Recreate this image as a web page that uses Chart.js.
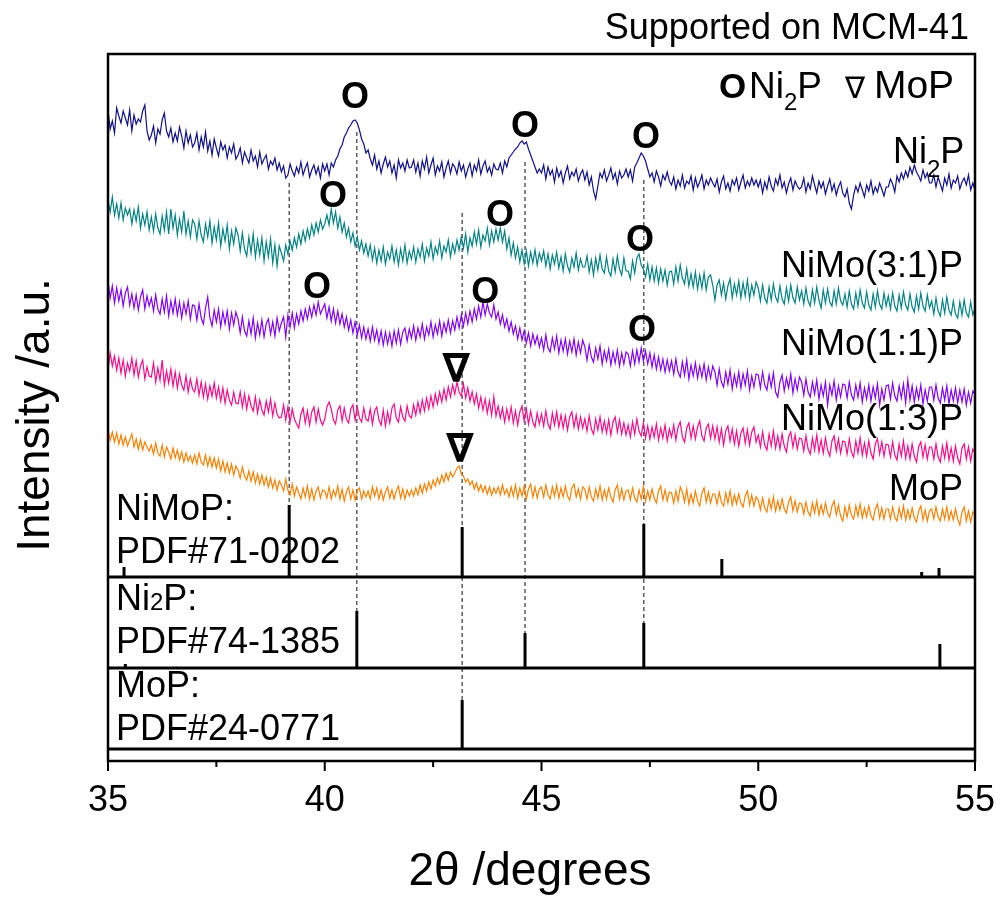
<!DOCTYPE html>
<html>
<head>
<meta charset="utf-8">
<script src="https://cdn.jsdelivr.net/npm/chart.js@4.4.0/dist/chart.umd.min.js"></script>
<style>
  body { margin: 0; background: #fff; }
  canvas { display: block; }
</style>
</head>
<body>
<canvas id="xrd-chart" width="1001" height="898"></canvas>
<script>
// 2theta range and sampling step
const thetaMin = 35;
const thetaMax = 55;
const thetaStep = 0.05;

const majorTicks = [35, 40, 45, 50, 55];
const minorTicks = [37.5, 42.5, 47.5, 52.5];

// Measured patterns (stacked intensity, a.u.), one row per degree
const ni2pTrace = [
  651,632,640,628,653,645,638,650,643,636,651,630,646,637,642,639,650,656,630,621,
  626,635,618,632,627,641,648,630,624,633,619,628,620,634,625,613,630,618,626,614,
  618,628,611,624,614,629,610,620,606,622,613,605,619,611,616,603,614,608,617,602,
  606,613,598,609,603,598,611,600,605,594,609,597,602,606,592,600,596,603,591,598,
  589,595,583,586,597,590,585,594,588,599,586,593,598,584,591,596,587,594,583,597,
  590,597,586,598,594,601,605,612,616,624,628,633,636,640,641,638,631,622,617,608,
  611,602,596,606,592,600,588,597,604,594,600,588,596,583,601,593,598,590,601,593,
  594,601,589,598,585,600,592,604,588,596,603,586,595,590,599,584,593,600,588,597,
  594,587,599,590,596,584,592,598,585,596,590,601,587,595,600,589,594,586,597,592,
  591,598,588,600,594,603,606,609,612,614,618,620,617,619,612,606,600,594,588,592,
  588,596,582,594,586,591,579,593,584,590,578,588,595,582,589,585,592,580,587,591,
  581,589,576,584,570,562,575,588,583,591,580,586,593,582,588,577,590,583,586,592,
  584,591,580,594,598,603,608,605,600,592,584,588,579,590,584,575,586,581,589,580,
  576,584,572,581,575,586,573,580,577,585,571,583,574,579,586,572,581,576,583,578,
  574,582,569,579,585,572,578,570,581,576,583,571,579,586,573,580,575,583,576,581,
  574,581,568,579,572,584,575,570,582,576,586,573,579,568,577,583,571,580,575,572,
  574,583,569,578,572,585,576,568,580,573,579,567,575,582,570,577,566,574,579,568,
  564,572,558,552,566,575,569,578,571,564,576,570,580,567,574,569,578,572,565,574,
  574,582,577,569,585,579,588,582,590,584,594,587,596,589,585,580,591,583,588,578,
  578,586,574,584,577,570,583,576,587,573,581,578,585,572,579,583,576,586,571,578,
  571
];

const nimo31Trace = [
  561,549,564,546,557,543,558,541,553,546,552,537,551,540,554,533,547,536,549,531,
  544,530,547,533,527,545,531,549,527,552,533,546,526,542,529,550,527,540,524,541,
  537,522,540,526,519,537,524,540,518,534,521,538,515,532,520,536,512,530,517,533,
  526,510,528,512,505,524,508,527,504,521,506,523,500,519,504,522,498,516,495,515,
  508,500,516,507,520,511,523,514,527,517,530,520,532,523,536,526,538,529,541,532,
  537,546,536,552,538,549,533,544,529,538,524,533,519,528,515,524,511,520,508,517,
  505,516,501,513,498,511,500,514,497,509,502,515,499,511,496,512,500,516,498,510,
  502,514,499,512,504,517,500,513,505,519,502,514,507,520,503,515,509,521,504,517,
  508,521,511,524,513,527,509,523,515,529,517,531,514,526,520,533,516,530,519,532,
  521,533,519,530,512,523,506,518,503,514,499,511,497,510,495,509,498,511,496,508,
  500,510,495,507,492,506,497,509,493,504,490,507,495,489,503,494,508,491,502,494,
  494,505,489,501,486,503,491,506,492,488,504,490,485,502,489,505,492,486,503,490,
  490,482,500,488,503,507,496,492,484,497,481,494,480,493,478,492,480,491,476,489,
  490,477,494,480,496,483,477,492,475,487,474,489,472,486,473,488,471,484,486,476,
  461,476,481,466,478,462,475,482,463,477,466,480,463,478,465,481,462,476,466,479,
  473,460,476,463,458,474,461,477,464,459,475,462,457,473,460,476,463,458,474,461,
  470,457,473,460,455,471,458,474,461,453,471,458,472,459,455,470,457,473,460,456,
  467,454,470,457,452,468,455,471,458,453,469,456,451,467,454,470,457,452,468,455,
  465,452,468,455,450,466,453,469,456,451,467,454,449,465,452,468,455,450,466,453,
  460,447,463,450,445,461,448,464,451,446,460,447,443,459,446,461,448,444,459,446,
  453
];

const nimo11Trace = [
  480,463,475,458,473,460,471,455,468,474,456,467,453,466,451,464,471,452,465,455,
  463,450,466,452,447,462,449,465,445,460,448,462,446,459,443,458,447,460,442,456,
  455,441,457,443,437,453,464,443,435,451,439,452,434,449,437,450,432,448,436,449,
  442,428,444,430,425,440,427,443,423,438,426,441,424,437,442,427,439,425,443,430,
  438,444,424,446,434,448,433,447,437,450,440,452,442,454,444,456,446,459,447,452,
  457,443,454,440,452,438,450,437,447,434,444,431,441,428,439,426,436,423,434,422,
  432,420,434,421,431,418,430,416,429,417,428,415,430,418,431,417,429,433,420,432,
  423,435,421,433,424,437,422,434,426,439,424,436,427,440,425,438,429,441,428,440,
  431,444,433,446,435,448,437,450,439,452,442,455,444,459,446,457,448,444,456,442,
  449,437,446,434,442,430,439,427,435,422,433,421,430,418,428,415,427,417,425,414,
  423,411,426,413,409,423,412,425,408,421,410,422,407,420,409,422,406,419,408,421,
  414,401,416,404,399,413,402,415,397,410,400,412,396,409,398,411,395,408,397,409,
  407,395,410,397,411,399,413,400,410,397,408,394,406,392,404,391,402,389,401,390,
  400,387,402,389,384,399,386,401,382,396,385,398,383,395,384,397,381,394,383,395,
  389,376,392,379,374,389,377,391,372,386,375,389,373,387,376,390,371,385,374,387,
  386,373,389,376,371,386,374,388,369,364,379,386,370,383,373,387,368,382,371,384,
  379,366,382,369,364,379,367,381,362,376,365,379,356,376,366,380,361,375,364,377,
  376,363,379,366,361,376,364,378,359,373,362,376,360,374,363,377,356,372,361,375,
  376,362,378,365,360,375,363,377,358,381,361,375,359,373,362,376,357,371,360,374,
  374,361,376,363,358,373,361,375,357,371,360,373,358,371,359,372,356,369,358,370,
  366
];

const nimo13Trace = [
  391,408,395,405,391,403,388,401,385,398,390,403,386,400,384,395,401,382,394,385,
  384,398,379,393,381,401,376,390,378,392,375,389,373,387,376,371,385,369,382,372,
  369,382,366,379,364,377,362,375,365,378,363,374,360,373,358,371,361,356,369,358,
  357,369,354,367,352,365,355,350,364,348,361,351,346,360,349,362,345,358,347,343,
  344,356,341,354,339,352,342,337,333,347,353,338,350,336,349,354,339,352,341,336,
  342,354,359,352,341,337,351,355,340,353,342,338,352,356,341,354,343,339,353,342,
  340,352,337,350,354,341,336,351,335,349,338,353,357,343,339,354,344,340,355,345,
  343,356,346,359,348,361,350,363,352,365,354,367,357,369,359,372,361,374,364,376,
  367,379,369,365,377,363,373,360,369,357,367,353,364,351,362,348,360,346,364,345,
  355,343,353,339,352,341,354,338,350,336,349,355,340,352,337,350,339,334,348,337,
  347,335,350,337,332,348,336,349,334,346,333,345,331,344,349,334,346,332,344,333,
  342,330,345,332,327,342,331,344,329,340,328,341,326,339,344,329,341,327,338,326,
  336,324,339,327,342,330,325,338,323,335,322,334,324,337,321,333,323,336,320,332,
  324,336,321,334,339,324,319,333,338,323,335,322,334,340,325,320,333,337,323,335,
  322,334,319,332,316,330,335,320,332,317,330,315,328,333,318,331,316,329,334,319,
  326,314,329,316,311,327,315,330,313,325,312,327,315,309,324,329,314,326,312,323,
  322,310,325,312,307,323,311,326,309,321,308,323,311,305,320,325,310,322,308,320,
  319,307,322,309,304,320,308,323,306,318,305,320,308,302,317,322,307,319,305,317,
  316,304,319,306,301,317,305,320,303,315,302,317,305,299,314,319,304,316,302,314,
  314,302,317,304,299,315,303,318,301,313,300,315,303,297,313,317,302,314,300,312,
  308
];

const mopTrace = [
  331,321,329,319,328,317,326,316,324,315,321,327,314,322,312,321,311,319,314,310,
  316,307,318,308,305,316,304,314,309,302,313,303,311,301,309,299,308,300,305,298,
  306,297,308,299,296,306,295,304,294,303,293,302,290,300,289,298,288,297,286,295,
  291,283,294,285,281,290,280,289,278,287,277,286,276,284,274,283,273,281,271,280,
  276,270,282,271,266,277,265,274,268,262,273,264,275,262,272,261,270,274,263,271,
  270,263,274,262,271,265,275,262,272,260,269,274,262,271,261,270,273,262,270,264,
  270,262,274,265,273,262,271,261,269,274,263,271,262,270,275,263,272,262,271,265,
  271,265,273,266,276,268,277,270,279,272,281,275,283,277,286,279,288,281,289,284,
  288,293,295,287,285,279,282,276,280,272,278,270,276,269,275,267,274,266,273,268,
  274,266,276,267,272,264,274,265,276,263,273,265,275,262,272,277,264,274,263,272,
  274,264,276,266,262,274,265,276,263,273,264,275,265,261,273,277,264,272,262,274,
  272,262,274,264,260,272,263,275,261,271,262,273,264,259,271,276,262,272,261,270,
  271,261,273,263,259,271,262,274,260,270,261,272,263,258,270,275,261,271,260,269,
  268,258,270,260,274,269,259,272,257,267,258,270,260,255,268,273,259,269,258,267,
  267,257,269,259,255,268,258,270,256,266,257,267,258,254,265,270,256,266,255,264,
  261,251,263,253,249,262,252,264,250,260,251,262,252,248,259,264,250,260,249,258,
  257,247,259,249,245,258,248,260,246,256,247,258,248,244,255,260,246,256,245,240,
  254,244,256,246,242,255,245,257,243,253,244,255,245,241,252,257,243,253,242,252,
  252,242,254,244,240,253,243,255,241,251,242,253,243,239,250,255,241,251,240,250,
  252,242,254,244,240,252,242,254,241,250,241,252,242,236,249,254,240,250,239,249,
  246
];

// Reference stick patterns: baseline, peak positions, relative heights
const nimopBase = 184;
const nimopPeaks = [35.37, 39.18, 43.17, 47.36, 49.16, 53.77, 54.17];
const nimopHeights = [10, 72, 50, 53, 18, 5, 9];

const ni2pBase = 93;
const ni2pPeaks = [35.4, 40.74, 44.62, 47.36, 54.19];
const ni2pHeights = [4, 57, 35, 45, 24];

const mopBase = 12;
const mopPeaks = [43.17];
const mopHeights = [49];

// Dashed guide lines linking peaks to reference sticks
const guideX = [39.18, 40.74, 43.17, 44.62, 47.36];
const guideTop = [578, 629, 548, 599, 581];
const guideBottom = [256, 150, 61, 128, 138];

// Peak markers
const markerX = [40.70, 44.62, 47.41, 40.19, 44.04, 47.27, 39.82, 43.70, 47.32, 43.03, 43.12];
const markerY = [663, 634, 623, 564, 545, 520, 473, 468, 430, 389, 309];
const markerSym = ['O', 'O', 'O', 'O', 'O', 'O', 'O', 'O', 'O', '\u2207', '\u2207'];

const FONT = '"Liberation Sans", Arial, sans-serif';

function toPoints(values) {
    return values.map((v, i) => ({ x: thetaMin + i * thetaStep, y: v }));
}

function stickPoints(base, peaks, heights) {
    const pts = [{ x: thetaMin, y: base }, { x: thetaMax, y: base }, { x: thetaMax, y: null }];
    peaks.forEach((p, i) => {
        pts.push({ x: p, y: base }, { x: p, y: base + heights[i] }, { x: p, y: null });
    });
    return pts;
}

function guidePoints() {
    const pts = [];
    guideX.forEach((g, i) => {
        pts.push({ x: g, y: guideTop[i] }, { x: g, y: guideBottom[i] }, { x: g, y: null });
    });
    return pts;
}

function traceSet(label, values, color) {
    return {
        label: label,
        data: toPoints(values),
        borderColor: color,
        borderWidth: 1.2,
        pointRadius: 0,
        tension: 0
    };
}

function stickSet(label, pts) {
    return {
        label: label,
        data: pts,
        borderColor: '#000',
        borderWidth: 3,
        pointRadius: 0,
        borderCapStyle: 'butt',
        spanGaps: false
    };
}

// "Ni" + small "2" + rest of the formula
function drawNi2(ctx, text, x0, yBase, subDrop, size) {
    ctx.font = size + 'px ' + FONT;
    ctx.fillText('Ni', x0, yBase);
    let cx = x0 + ctx.measureText('Ni').width;
    ctx.font = Math.round(size * 0.66) + 'px ' + FONT;
    ctx.fillText('2', cx, yBase + subDrop);
    cx += ctx.measureText('2').width;
    ctx.font = size + 'px ' + FONT;
    ctx.fillText(text, cx, yBase);
}

// Text, ticks and frame drawn on top of the plot
const xrdDecor = {
    id: 'xrdDecor',
    afterDraw(chart) {
        const { ctx, chartArea: a, scales: { x, y } } = chart;
        ctx.save();
        ctx.fillStyle = '#000';
        ctx.strokeStyle = '#000';

        // frame
        ctx.lineWidth = 2.5;
        ctx.strokeRect(a.left, a.top, a.right - a.left, a.bottom - a.top);

        // ticks
        ctx.lineWidth = 2;
        ctx.beginPath();
        majorTicks.forEach(t => {
            const px = x.getPixelForValue(t);
            ctx.moveTo(px, a.bottom); ctx.lineTo(px, a.bottom + 10);
        });
        minorTicks.forEach(t => {
            const px = x.getPixelForValue(t);
            ctx.moveTo(px, a.bottom); ctx.lineTo(px, a.bottom + 6);
        });
        ctx.stroke();

        // tick labels
        ctx.font = '36px ' + FONT;
        ctx.textAlign = 'center';
        ctx.textBaseline = 'middle';
        majorTicks.forEach(t => ctx.fillText(String(t), x.getPixelForValue(t), 801));

        // axis titles
        ctx.font = '46px ' + FONT;
        ctx.fillText('2\u03b8 /degrees', 530, 872);
        ctx.save();
        ctx.translate(36, 415);
        ctx.rotate(-Math.PI / 2);
        ctx.fillText('Intensity /a.u.', 0, 0);
        ctx.restore();

        // header
        ctx.font = '36px ' + FONT;
        ctx.textAlign = 'right';
        ctx.textBaseline = 'alphabetic';
        ctx.fillText('Supported on MCM-41', 969, 39);

        // legend: O Ni2P   ∇ MoP
        ctx.textAlign = 'left';
        ctx.font = 'bold 35px ' + FONT;
        ctx.fillText('O', 719, 98);
        drawNi2(ctx, 'P', 749, 98, 12, 37);
        ctx.font = '30px "DejaVu Sans", ' + FONT;
        ctx.fillText('\u2207', 845, 98);
        ctx.font = '39px ' + FONT;
        ctx.textAlign = 'center';
        ctx.fillText('MoP', 914, 98);

        // sample labels
        ctx.textAlign = 'left';
        drawNi2(ctx, 'P', 893, 163, 14, 36);

        ctx.font = '36px ' + FONT;
        ctx.textAlign = 'right';
        ctx.textBaseline = 'middle';
        ctx.fillText('NiMo(3:1)P', 963, 267);
        ctx.fillText('NiMo(1:1)P', 963, 345);
        ctx.fillText('NiMo(1:3)P', 963, 420);
        ctx.fillText('MoP', 963, 490);

        // reference card labels
        ctx.textAlign = 'left';
        ctx.fillText('NiMoP:', 116, 510);
        ctx.fillText('PDF#71-0202', 116, 553);
        ctx.textBaseline = 'alphabetic';
        drawNi2(ctx, 'P:', 116, 610, 0, 36);
        ctx.textBaseline = 'middle';
        ctx.font = '36px ' + FONT;
        ctx.fillText('PDF#74-1385', 116, 643);
        ctx.fillText('MoP:', 116, 687);
        ctx.fillText('PDF#24-0771', 116, 730);

        // peak markers
        ctx.textAlign = 'center';
        markerX.forEach((mx, i) => {
            if (markerSym[i] === 'O') {
                ctx.font = 'bold 36px ' + FONT;
            } else {
                ctx.font = 'bold 40px "DejaVu Sans", ' + FONT;
            }
            ctx.fillText(markerSym[i], x.getPixelForValue(mx), y.getPixelForValue(markerY[i]));
        });

        ctx.restore();
    }
};

const xrdChart = new Chart(document.getElementById('xrd-chart'), {
    type: 'line',
    data: {
        datasets: [
            traceSet('Ni2P', ni2pTrace, '#10108a'),
            traceSet('NiMo(3:1)P', nimo31Trace, '#008282'),
            traceSet('NiMo(1:1)P', nimo11Trace, '#8000ff'),
            traceSet('NiMo(1:3)P', nimo13Trace, '#ff0a86'),
            traceSet('MoP', mopTrace, '#ff8000'),
            stickSet('NiMoP PDF#71-0202', stickPoints(nimopBase, nimopPeaks, nimopHeights)),
            stickSet('Ni2P PDF#74-1385', stickPoints(ni2pBase, ni2pPeaks, ni2pHeights)),
            stickSet('MoP PDF#24-0771', stickPoints(mopBase, mopPeaks, mopHeights)),
            {
                label: 'guides',
                data: guidePoints(),
                borderColor: '#444',
                borderWidth: 1.3,
                borderDash: [4, 3],
                pointRadius: 0,
                spanGaps: false
            }
        ]
    },
    options: {
        responsive: false,
        animation: false,
        layout: {
            padding: { left: 108, right: 26, top: 54, bottom: 137 }
        },
        plugins: {
            legend: { display: false },
            tooltip: { enabled: false }
        },
        scales: {
            x: { type: 'linear', min: thetaMin, max: thetaMax, display: false },
            y: { type: 'linear', min: 0, max: 707, display: false }
        }
    },
    plugins: [xrdDecor]
});
</script>
</body>
</html>
